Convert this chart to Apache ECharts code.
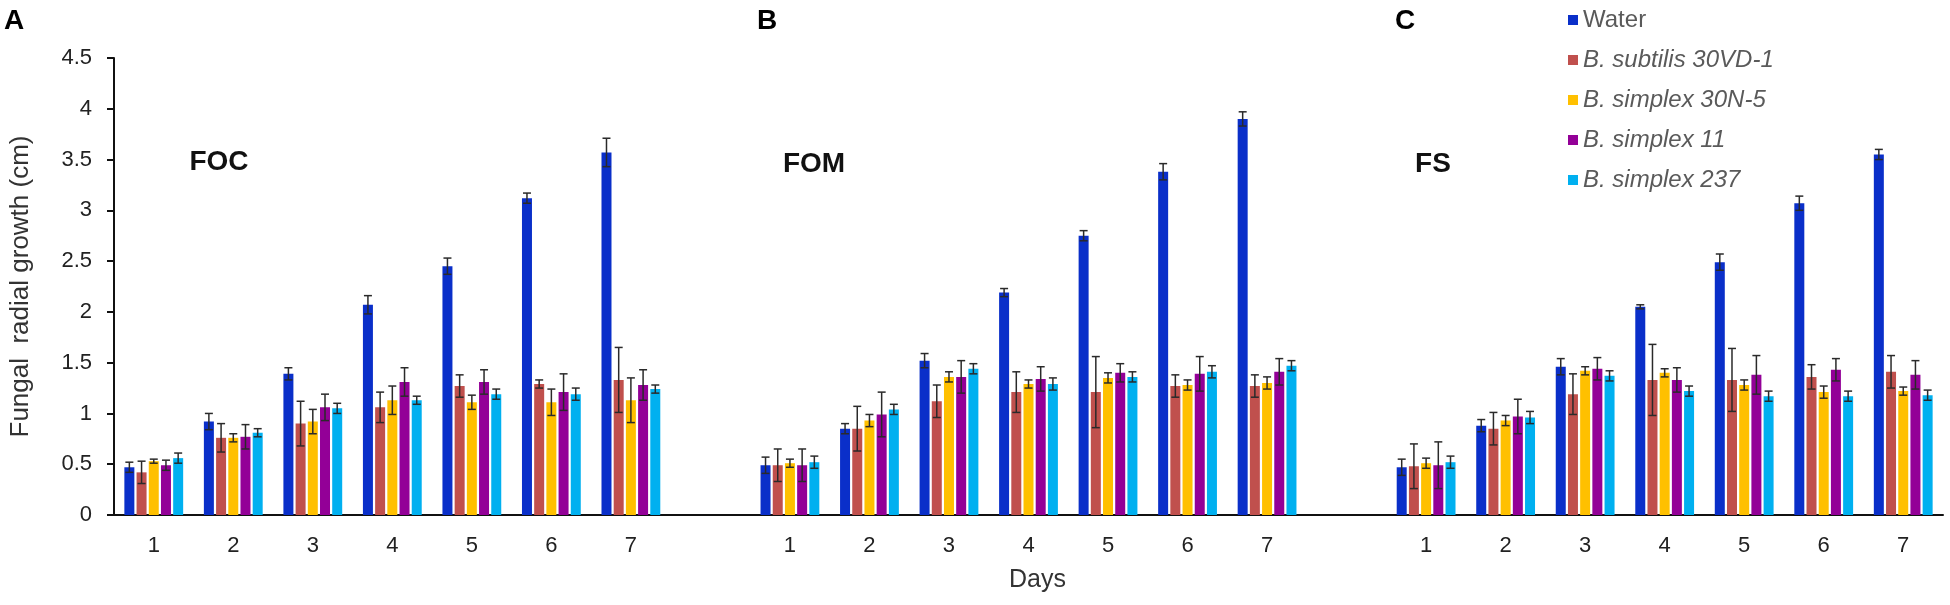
<!DOCTYPE html>
<html>
<head>
<meta charset="utf-8">
<title>Fungal radial growth</title>
<script src="https://cdn.jsdelivr.net/npm/echarts@6/dist/echarts.min.js"></script>
<style>
    html, body { margin: 0; padding: 0; background: #fff; }
    #main { width: 1950px; height: 605px; }
</style>
</head>
<body>
<div id="main"></div>
<script>
// data
var days = ['1', '2', '3', '4', '5', '6', '7'];
var panels = ['FOC', 'FOM', 'FS'];
var panelLetters = ['A', 'B', 'C'];
var seriesNames = ['Water', 'B. subtilis 30VD-1', 'B. simplex 30N-5', 'B. simplex 11', 'B. simplex 237'];
var colors = ['#0a2fc9', '#c0504d', '#ffc000', '#930097', '#00b0f0'];

// rows: Water, 30VD-1, 30N-5, 11, 237 ; columns: day 1..7
var focMean = [
    [0.47, 0.92, 1.39, 2.07, 2.45, 3.12, 3.57],
    [0.42, 0.76, 0.90, 1.06, 1.27, 1.29, 1.33],
    [0.53, 0.76, 0.92, 1.13, 1.11, 1.11, 1.13],
    [0.49, 0.77, 1.06, 1.31, 1.31, 1.21, 1.28],
    [0.56, 0.81, 1.05, 1.13, 1.19, 1.19, 1.24]
];
var focErr = [
    [0.05, 0.08, 0.06, 0.09, 0.08, 0.05, 0.14],
    [0.11, 0.14, 0.22, 0.15, 0.11, 0.04, 0.32],
    [0.02, 0.04, 0.12, 0.14, 0.07, 0.13, 0.22],
    [0.05, 0.12, 0.13, 0.14, 0.12, 0.18, 0.15],
    [0.05, 0.04, 0.05, 0.04, 0.05, 0.06, 0.04]
];
var fomMean = [
    [0.49, 0.85, 1.52, 2.19, 2.75, 3.38, 3.90],
    [0.49, 0.85, 1.12, 1.21, 1.21, 1.27, 1.27],
    [0.51, 0.93, 1.36, 1.29, 1.35, 1.28, 1.30],
    [0.49, 0.99, 1.36, 1.34, 1.40, 1.39, 1.41],
    [0.52, 1.04, 1.44, 1.29, 1.36, 1.41, 1.47]
];
var fomErr = [
    [0.08, 0.05, 0.07, 0.04, 0.05, 0.08, 0.07],
    [0.16, 0.22, 0.16, 0.20, 0.35, 0.11, 0.11],
    [0.04, 0.06, 0.05, 0.04, 0.05, 0.05, 0.06],
    [0.16, 0.22, 0.16, 0.12, 0.09, 0.17, 0.13],
    [0.06, 0.05, 0.05, 0.06, 0.05, 0.06, 0.05]
];
var fsMean = [
    [0.47, 0.88, 1.46, 2.05, 2.49, 3.07, 3.55],
    [0.48, 0.85, 1.19, 1.33, 1.33, 1.36, 1.41],
    [0.51, 0.93, 1.42, 1.40, 1.28, 1.21, 1.22],
    [0.49, 0.97, 1.44, 1.33, 1.38, 1.43, 1.38],
    [0.52, 0.96, 1.37, 1.22, 1.17, 1.17, 1.18]
];
var fsErr = [
    [0.08, 0.06, 0.08, 0.02, 0.08, 0.07, 0.05],
    [0.22, 0.16, 0.20, 0.35, 0.31, 0.12, 0.16],
    [0.05, 0.05, 0.04, 0.04, 0.05, 0.06, 0.04],
    [0.23, 0.17, 0.11, 0.12, 0.19, 0.11, 0.14],
    [0.06, 0.06, 0.05, 0.05, 0.05, 0.05, 0.05]
];
var yMin = 0, yMax = 4.5, yStep = 0.5;

var FONT = '"Liberation Sans", Arial, sans-serif';
var BAR_W = 10, BAR_GAP = 2.2;

// one empty slot between the three panels
var categories = days.concat([''], days, [''], days);
var panelMeans = [focMean, fomMean, fsMean];
var panelErrs = [focErr, fomErr, fsErr];

function joined(rows, s) {
    var out = [];
    rows.forEach(function(r, p) {
        if (p > 0) out.push('-');
        out = out.concat(r[s]);
    });
    return out;
}

function errData(s) {
    var out = [];
    panelMeans.forEach(function(m, p) {
        m[s].forEach(function(v, d) {
            var e = panelErrs[p][s][d];
            out.push([p * (days.length + 1) + d, v - e, v + e]);
        });
    });
    return out;
}

var series = [];
seriesNames.forEach(function(name, s) {
    series.push({
        name: name,
        type: 'bar',
        data: joined(panelMeans, s),
        barWidth: BAR_W,
        barGap: (BAR_GAP / BAR_W * 100) + '%',
        itemStyle: { color: colors[s] },
        silent: true
    });
});
seriesNames.forEach(function(name, s) {
    var off = (s - (seriesNames.length - 1) / 2) * (BAR_W + BAR_GAP);
    series.push({
        name: name,
        type: 'custom',
        data: errData(s),
        z: 5,
        silent: true,
        renderItem: function(params, api) {
            var x = api.coord([api.value(0), 0])[0] + off;
            var lo = api.coord([api.value(0), api.value(1)])[1];
            var hi = api.coord([api.value(0), api.value(2)])[1];
            var st = { stroke: '#2a2a2a', lineWidth: 1.5 };
            return {
                type: 'group',
                children: [
                    { type: 'line', shape: { x1: x, y1: lo, x2: x, y2: hi }, style: st },
                    { type: 'line', shape: { x1: x - 4, y1: hi, x2: x + 4, y2: hi }, style: st },
                    { type: 'line', shape: { x1: x - 4, y1: lo, x2: x + 4, y2: lo }, style: st }
                ]
            };
        }
    });
});

var labelPos = [[14, 21], [767, 21], [1405, 21]];
var namePos = [[219, 162], [814, 164], [1433, 164]];
var graphics = [];
panels.forEach(function(p, i) {
    graphics.push({
        type: 'text', x: labelPos[i][0], y: labelPos[i][1],
        style: { text: panelLetters[i], fontFamily: FONT, fontWeight: 'bold', fontSize: 28, fill: '#000', align: 'center', verticalAlign: 'middle' }
    });
    graphics.push({
        type: 'text', x: namePos[i][0], y: namePos[i][1],
        style: { text: p, fontFamily: FONT, fontWeight: 'bold', fontSize: 28, fill: '#111', align: 'center', verticalAlign: 'middle' }
    });
});

var myChart = echarts.init(document.getElementById('main'));
var option = {
    backgroundColor: '#fff',
    animation: false,
    color: colors,
    grid: { left: 110, right: 7, top: 58, bottom: 90, containLabel: false },
    legend: {
        data: seriesNames,
        orient: 'vertical',
        left: 1563,
        top: 3,
        itemWidth: 10,
        itemHeight: 10,
        itemGap: 16,
        icon: 'rect',
        formatter: function(name) {
            return name === 'Water' ? name : '{i|' + name + '}';
        },
        textStyle: {
            fontFamily: FONT, fontSize: 24, color: '#5a5a5a',
            rich: { i: { fontFamily: FONT, fontSize: 24, fontStyle: 'italic', color: '#5a5a5a' } }
        }
    },
    xAxis: {
        type: 'category',
        data: categories,
        name: 'Days',
        nameLocation: 'middle',
        nameGap: 53,
        nameTextStyle: { fontFamily: FONT, fontSize: 25, color: '#333', padding: [0, 0, 0, 18] },
        axisLine: { lineStyle: { color: '#111', width: 2 } },
        axisTick: { show: false },
        axisLabel: { interval: 0, margin: 20, fontFamily: FONT, fontSize: 22, color: '#222' },
        splitLine: { show: false }
    },
    yAxis: {
        type: 'value',
        min: yMin,
        max: yMax,
        interval: yStep,
        name: 'Fungal  radial growth (cm)',
        nameLocation: 'middle',
        nameGap: 80,
        nameTextStyle: { fontFamily: FONT, fontSize: 26, color: '#333' },
        axisLine: { show: true, lineStyle: { color: '#111', width: 2 } },
        axisTick: { show: true, length: 7, lineStyle: { color: '#111', width: 2 } },
        axisLabel: { margin: 22, fontFamily: FONT, fontSize: 22, color: '#222' },
        splitLine: { show: false }
    },
    graphic: graphics,
    series: series
};
myChart.setOption(option);
</script>
</body>
</html>
